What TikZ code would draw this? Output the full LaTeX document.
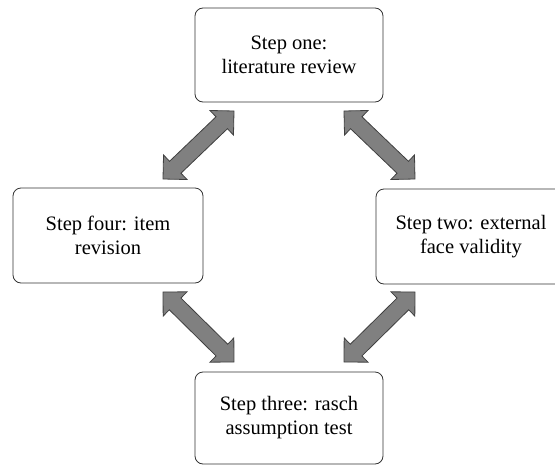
\documentclass[tikz,border=0pt]{standalone}
\usepackage{fontspec}
\setmainfont{Liberation Serif}
\usetikzlibrary{calc}

\begin{document}
\begin{tikzpicture}[x=1pt,y=-1pt,
 stepbox/.style args = {#1/#2}{draw=black!80, line width=0.8pt, rounded corners=8pt, fill=white,
   align=center, inner sep=0pt, minimum width=#1pt, minimum height=#2pt,
   font=\fontsize{20.5}{24}\selectfont},
 dblarrow/.style = {draw=black!75, fill=black!50, line width=0.8pt, line join=miter,
   to path={-- ($(\tikztostart)!17pt!(\tikztotarget)!17pt!90:(\tikztotarget)$)
            -- ($(\tikztostart)!17pt!(\tikztotarget)!8.25pt!90:(\tikztotarget)$)
            -- ($(\tikztotarget)!17pt!(\tikztostart)!8.25pt!-90:(\tikztostart)$)
            -- ($(\tikztotarget)!17pt!(\tikztostart)!17pt!-90:(\tikztostart)$)
            -- (\tikztotarget)
            -- ($(\tikztotarget)!17pt!(\tikztostart)!17pt!90:(\tikztostart)$)
            -- ($(\tikztotarget)!17pt!(\tikztostart)!8.25pt!90:(\tikztostart)$)
            -- ($(\tikztostart)!17pt!(\tikztotarget)!8.25pt!-90:(\tikztotarget)$)
            -- ($(\tikztostart)!17pt!(\tikztotarget)!17pt!-90:(\tikztotarget)$)
            -- cycle}}]

\useasboundingbox (0,0) rectangle (555,466);

\node(one)   [stepbox=188/94] at (289,55)    {Step one:\\literature review};
\node(four)  [stepbox=190/95] at (108,235.5) {Step four: item\\revision};
\node(two)   [stepbox=190/95] at (471,236.5) {Step two: external\\face validity};
\node(three) [stepbox=188/92] at (289,418)   {Step three: rasch\\assumption test};

\coordinate (a1) at (234,111);
\coordinate (a2) at (163,179);
\coordinate (b1) at (344,111);
\coordinate (b2) at (415,179);
\coordinate (c1) at (163,292);
\coordinate (c2) at (234,362);
\coordinate (d1) at (415,292);
\coordinate (d2) at (344,362);
%
\path   (a1) edge [dblarrow] (a2)
        (b1) edge [dblarrow] (b2)
        (c1) edge [dblarrow] (c2)
        (d1) edge [dblarrow] (d2);

\end{tikzpicture}
\end{document}
